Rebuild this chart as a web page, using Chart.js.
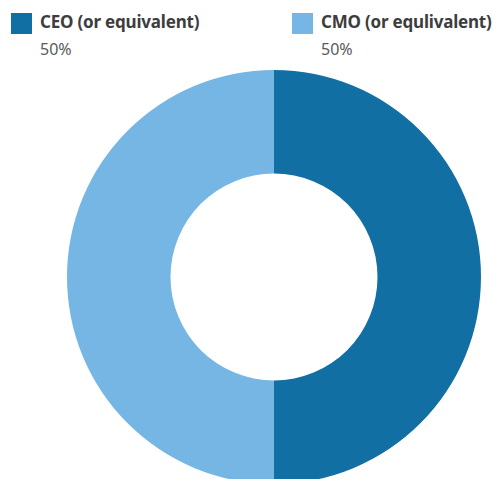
<!DOCTYPE html>
<html lang="en">
<head>
  <meta charset="UTF-8">
  <title>CEO vs CMO</title>
  <script src="https://cdn.jsdelivr.net/npm/chart.js"></script>
  <style>
    html, body { margin: 0; padding: 0; background: #fff; overflow: hidden; }
    body { width: 493px; height: 479px; position: relative; font-family: "Noto Sans", sans-serif; }
    .item { position: absolute; top: 13px; }
    .swatch { position: absolute; left: 0; top: 0; width: 21px; height: 21px; }
    .name { position: absolute; left: 29px; top: -3px; white-space: nowrap; font-weight: bold; font-size: 17px; letter-spacing: -0.2px; color: #3d3d3d; }
    .pct { position: absolute; left: 29px; top: 25px; white-space: nowrap; font-size: 16px; color: #5a5a5a; }
    #wrap { position: absolute; left: 67px; top: 70px; width: 414px; height: 414px; }
  </style>
</head>
<body>
  <div id="legend"></div>
  <div id="wrap"><canvas id="grafico"></canvas></div>

  <script>
    const categorias = ["CEO (or equivalent)", "CMO (or equlivalent)"];
    const valores = [50, 50];
    const colores = ["#116fa3", "#75b6e4"];
    const etiquetas = ["50%", "50%"];

    // leyenda en HTML
    const legend = document.getElementById("legend");
    const posiciones = [11, 292];
    categorias.forEach((cat, i) => {
      const item = document.createElement("div");
      item.className = "item";
      item.style.left = posiciones[i] + "px";
      item.innerHTML = '<div class="swatch" style="background:' + colores[i] + '"></div>' +
        '<div class="name">' + cat + '</div>' +
        '<div class="pct">' + etiquetas[i] + '</div>';
      legend.appendChild(item);
    });

    new Chart(document.getElementById("grafico"), {
      type: 'doughnut',
      data: {
        labels: categorias,
        datasets: [{
          data: valores,
          backgroundColor: colores,
          borderWidth: 0
        }]
      },
      options: {
        responsive: true,
        maintainAspectRatio: false,
        animation: false,
        cutout: '50%',
        layout: { padding: 0 },
        plugins: {
          legend: { display: false },
          tooltip: { enabled: false }
        }
      }
    });
  </script>
</body>
</html>
